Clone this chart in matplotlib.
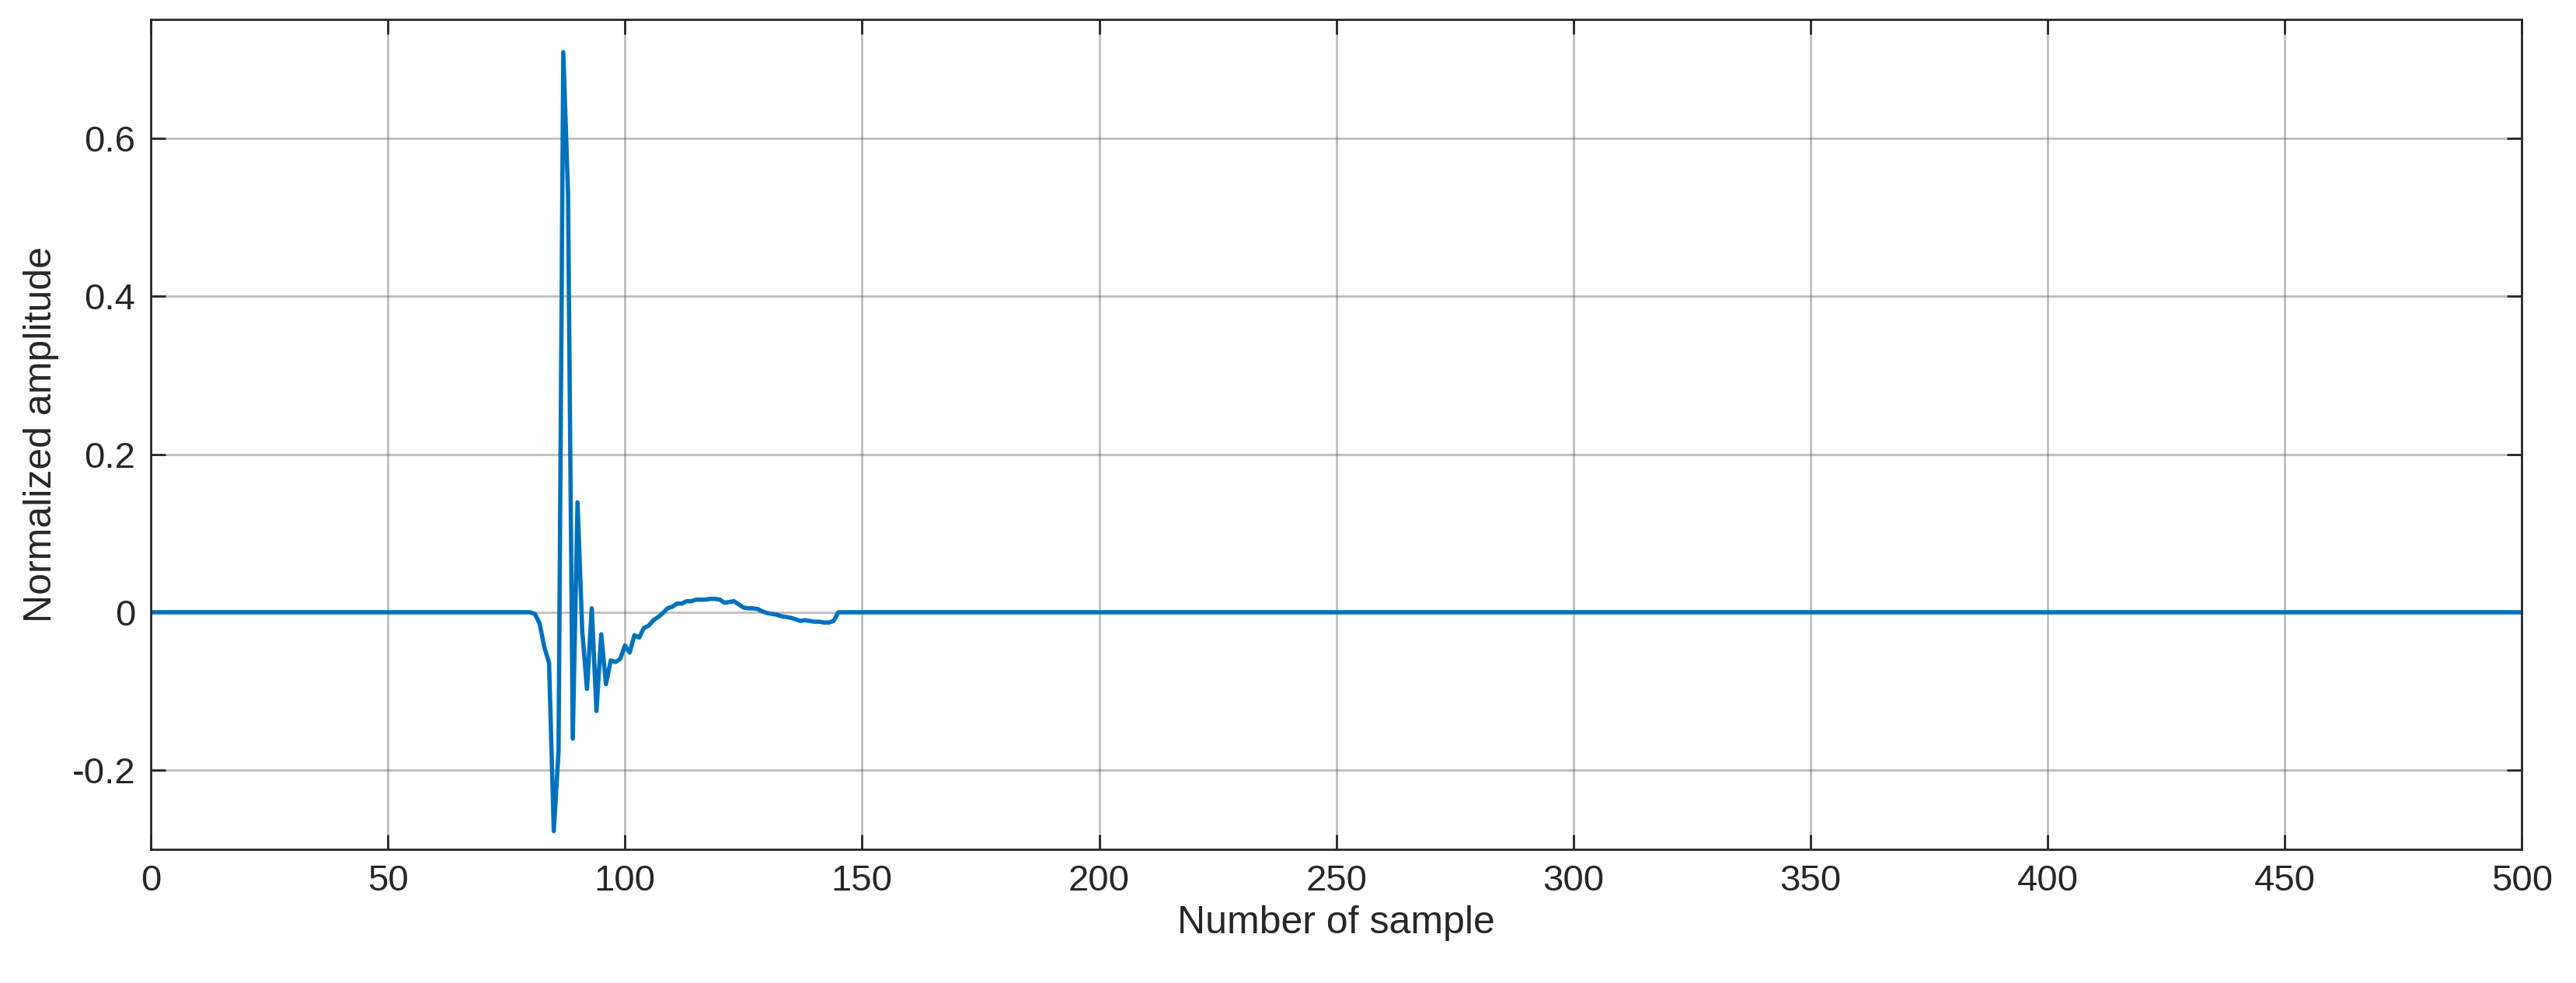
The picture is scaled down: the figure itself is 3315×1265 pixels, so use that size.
import numpy as np
import matplotlib
matplotlib.use("Agg")
import matplotlib.pyplot as plt

plt.rcParams['font.family'] = ['Liberation Sans', 'DejaVu Sans']

# nonzero part of the response, samples 80..145
pulse_start = 80
pulse = [0.0, -0.002, -0.014, -0.044, -0.064, -0.277, -0.176, 0.709, 0.53, -0.16,
         0.139, -0.024, -0.097, 0.005, -0.125, -0.028, -0.091, -0.061, -0.063, -0.059,
         -0.042, -0.051, -0.029, -0.032, -0.020, -0.017, -0.010, -0.006, -0.001, 0.005,
         0.007, 0.011, 0.011, 0.014, 0.014, 0.016, 0.016, 0.016, 0.017, 0.017,
         0.016, 0.012, 0.013, 0.014, 0.010, 0.006, 0.005, 0.005, 0.004, 0.001,
         -0.001, -0.002, -0.003, -0.005, -0.006, -0.007, -0.009, -0.011, -0.010, -0.011,
         -0.012, -0.012, -0.013, -0.013, -0.011, 0.0]
n_samples = 501

signal = np.zeros(n_samples)
signal[pulse_start:pulse_start + len(pulse)] = pulse
x = np.arange(n_samples)

fig = plt.figure(figsize=(16.575, 6.325), dpi=200)
ax = fig.add_axes([0.0585, 0.136, 0.9205, 0.844])
ax.plot(x, signal, color="#0072BD", linewidth=2.0)
ax.set_xlim(0, 500)
ax.set_ylim(-0.3, 0.75)
ax.set_xticks(np.arange(0, 501, 50))
ax.set_yticks([-0.2, 0, 0.2, 0.4, 0.6])
ax.set_yticklabels(["-0.2", "0", "0.2", "0.4", "0.6"])
ax.grid(True, color="#262626", alpha=0.3, linewidth=1.0)
ax.tick_params(direction="in", top=True, right=True, labelsize=17, colors="#262626",
               length=7, width=1.0, pad=7)
for s in ax.spines.values():
    s.set_color("#262626")
    s.set_linewidth(1.0)
ax.set_xlabel("Number of sample", fontsize=18, color="#262626", labelpad=3)
ax.set_ylabel("Normalized amplitude", fontsize=18, color="#262626", labelpad=6)
fig.savefig("out.png", dpi=200)
